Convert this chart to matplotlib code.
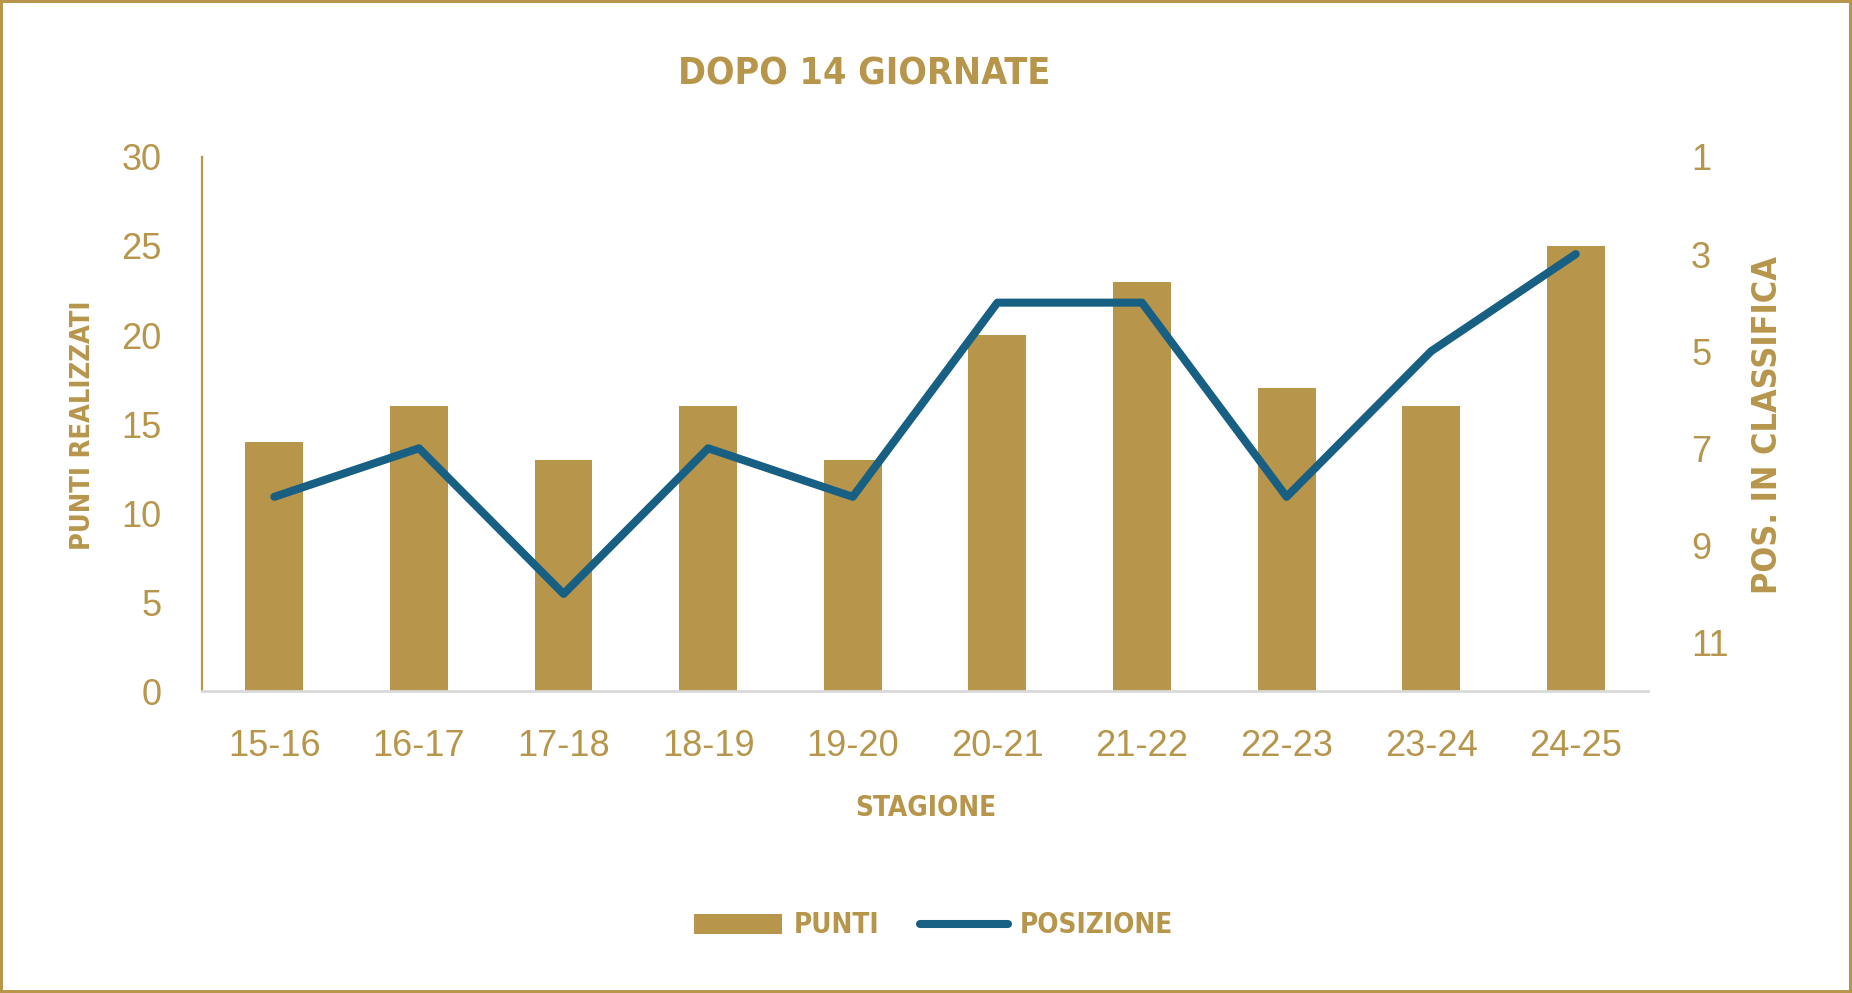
import matplotlib
matplotlib.use("Agg")
import matplotlib.pyplot as plt
from matplotlib.patches import Rectangle
import numpy as np

stagioni = ["15-16", "16-17", "17-18", "18-19", "19-20",
            "20-21", "21-22", "22-23", "23-24", "24-25"]
punti = [14, 16, 13, 16, 13, 20, 23, 17, 16, 25]
posizione = [8, 7, 10, 7, 8, 4, 4, 8, 5, 3]

oro = "#B7954B"
blu = "#175F83"
grigio = "#D9D9D9"

# font stretto per titoli e legenda
narrow = ["DejaVu Sans"]
plain = ["Liberation Sans", "DejaVu Sans"]

fig = plt.figure(figsize=(18.52, 9.93), dpi=100)
ax = fig.add_axes([0.1091, 0.3041, 0.7808, 0.5378])
ax2 = ax.twinx()

x = np.arange(len(stagioni))
barre = ax.bar(x, punti, width=0.4, color=oro, label="PUNTI", zorder=2)
linea, = ax2.plot(x, posizione, color=blu, lw=5.8, solid_capstyle="round",
                  solid_joinstyle="round", label="POSIZIONE", zorder=3)

ax.set_xlim(-0.5, len(stagioni) - 0.5)
ax.set_ylim(0, 30)
ax.set_yticks([0, 5, 10, 15, 20, 25, 30])
ax2.set_ylim(12, 1)
ax2.set_yticks([1, 3, 5, 7, 9, 11])
ax.set_xticks(x)
ax.set_xticklabels(stagioni)

for a in (ax, ax2):
    for s in a.spines.values():
        s.set_visible(False)
    a.set_facecolor("none")
ax.spines["left"].set_visible(True)
ax.spines["left"].set_color(oro)
ax.spines["left"].set_linewidth(1.6)
ax.spines["bottom"].set_visible(True)
ax.spines["bottom"].set_color(grigio)
ax.spines["bottom"].set_linewidth(2)

ax.tick_params(axis="x", length=0, pad=27, labelcolor=oro, labelsize=26)
ax.tick_params(axis="y", length=0, pad=29, labelcolor=oro, labelsize=26)
ax2.tick_params(axis="y", length=0, pad=31, labelcolor=oro, labelsize=26)
for lab in ax.get_xticklabels() + ax.get_yticklabels() + ax2.get_yticklabels():
    lab.set_family(plain)

fig.text(0.4665, 0.9245, "DOPO 14 GIORNATE", color=oro, fontsize=27,
         fontweight="bold", family=narrow, stretch="condensed",
         ha="center", va="center")
fig.text(0.5, 0.186, "STAGIONE", color=oro, fontsize=20,
         fontweight="bold", family=narrow, stretch="condensed",
         ha="center", va="center")
fig.text(0.0448, 0.572, "PUNTI REALIZZATI", color=oro, fontsize=19.5,
         fontweight="bold", family=narrow, stretch="condensed",
         ha="center", va="center", rotation=90)
fig.text(0.9546, 0.572, "POS. IN CLASSIFICA", color=oro, fontsize=24.5,
         fontweight="bold", family=narrow, stretch="condensed",
         ha="center", va="center", rotation=90)

leg = fig.legend([barre, linea], ["PUNTI", "POSIZIONE"], loc="center",
                 bbox_to_anchor=(0.504, 0.068), ncol=2, frameon=False,
                 handlelength=3.17, handleheight=0.72, handletextpad=0.43,
                 columnspacing=1.47,
                 prop={"family": narrow, "weight": "bold", "size": 20,
                       "stretch": "condensed"})
for t in leg.get_texts():
    t.set_color(oro)

fig.add_artist(Rectangle((0, 0), 1, 1, transform=fig.transFigure,
                         fill=False, ec=oro, lw=4.3))

fig.savefig("out.png", dpi=100, facecolor="white")
